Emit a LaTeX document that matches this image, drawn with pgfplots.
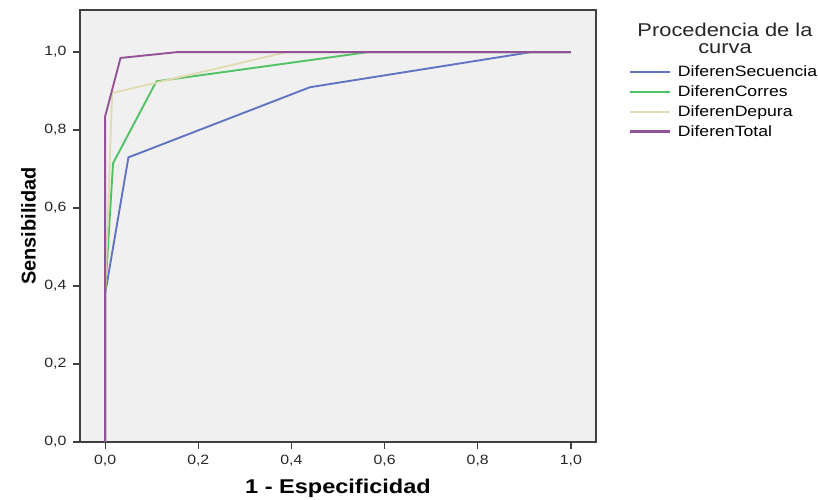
\documentclass[border=0pt]{standalone}
\usepackage{fontspec}
\setmainfont{Liberation Sans}[FakeStretch=1.18]
\newfontfamily\plainfont{Liberation Sans}
\usepackage{pgfplots}
\pgfplotsset{compat=1.18}
\definecolor{cblue}{HTML}{6075C2}
\definecolor{cgreen}{HTML}{52C266}
\definecolor{cbeige}{HTML}{E2DAB3}
\definecolor{cpurple}{HTML}{935298}
\definecolor{bgc}{HTML}{F0F0F0}
\begin{document}
\begin{tikzpicture}[x=1bp,y=1bp]
\useasboundingbox (0,0) rectangle (818,500);
\begin{axis}[
  at={(80bp,58bp)}, anchor=south west,
  width=516bp, height=432bp, scale only axis,
  xmin=-0.054, xmax=1.054, ymin=0, ymax=1.108,
  axis background/.style={fill=bgc},
  axis line style={draw=black!75, line width=1.3pt},
  tick align=outside, tick pos=left, major tick length=7bp,
  every tick/.style={draw=black!75, line width=1.3pt},
  xtick={0,0.2,0.4,0.6,0.8,1.0}, ytick={0,0.2,0.4,0.6,0.8,1.0},
  /pgf/number format/assume math mode=true,
  xticklabel style={yshift=-3bp, /pgf/number format/.cd, use comma, fixed, fixed zerofill, precision=1},
  yticklabel style={xshift=-3bp, /pgf/number format/.cd, use comma, fixed, fixed zerofill, precision=1},
  ticklabel style={font=\fontsize{13.5}{15}\selectfont, text=black!85},
  xlabel={\textbf{1 - Especificidad}},
  ylabel={\plainfont\bfseries Sensibilidad},
  xlabel style={font=\fontsize{20}{22}\selectfont, at={(axis description cs:0.5,-0.108)}, anchor=center},
  ylabel style={font=\fontsize{20}{22}\selectfont, at={(axis description cs:-0.1,0.5)}, anchor=center},
  legend style={at={(rel axis cs:1.064,0.874)}, anchor=north west, draw=none, fill=none,
    font=\fontsize{15}{17}\selectfont, row sep=4.4bp, inner sep=0pt,
    nodes={inner sep=1.5bp},
    /tikz/every odd column/.append style={column sep=5bp}},
  legend cell align=left,
  legend image code/.code={\draw[#1, line width=2.2pt] (0bp,0bp) -- (40bp,0bp);},
]
\addplot[cblue, line width=1.9pt] coordinates {(0,0) (0,0.38) (0.05,0.73) (0.44,0.91) (0.915,1) (1,1)};
\addplot[cgreen, line width=1.9pt] coordinates {(0,0) (0,0.38) (0.017,0.715) (0.11,0.925) (0.565,1) (1,1)};
\addplot[cbeige, line width=1.9pt] coordinates {(0,0) (0,0.38) (0.008,0.65) (0.015,0.895) (0.39,1) (1,1)};
\addplot[cpurple, line width=1.9pt] coordinates {(0,0) (0,0.835) (0.033,0.985) (0.155,1) (1,1)};
\legend{DiferenSecuencia, DiferenCorres, DiferenDepura, DiferenTotal}
\end{axis}
\node[anchor=north, align=center, font=\fontsize{18.6}{17}\selectfont, inner sep=0pt, text=black!85] at (725,477) {Procedencia de la\\curva};
\end{tikzpicture}
\end{document}
